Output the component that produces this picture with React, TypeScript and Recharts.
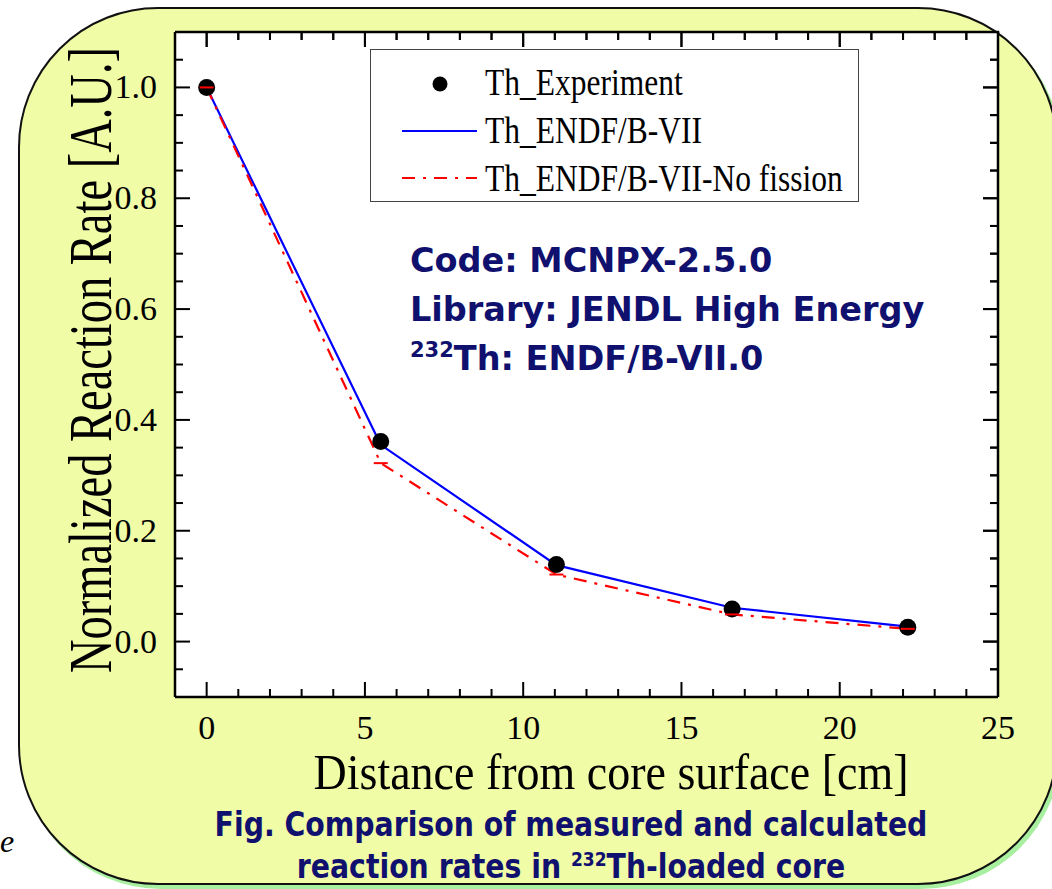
import { LineChart, Line, XAxis, YAxis, Legend } from 'recharts'

const distance = [0, 5.5, 11.05, 16.6, 22.15]
const experiment = [1.0, 0.361, 0.139, 0.059, 0.026]
const endf = [1.0, 0.355, 0.138, 0.061, 0.027]
const noFission = [1.0, 0.322, 0.121, 0.049, 0.023]

const seriesNames = ['Th_Experiment', 'Th_ENDF/B-VII', 'Th_ENDF/B-VII-No fission']

const xTicks = [0, 1, 2, 3, 4, 5, 6, 7, 8, 9, 10, 11, 12, 13, 14, 15, 16, 17, 18, 19, 20, 21, 22, 23, 24, 25]
const xMajor = [0, 5, 10, 15, 20, 25]
const yTicks = [
    -0.05, 0, 0.05, 0.1, 0.15, 0.2, 0.25, 0.3, 0.35, 0.4, 0.45, 0.5, 0.55, 0.6, 0.65, 0.7, 0.75, 0.8,
    0.85, 0.9, 0.95, 1.0, 1.05,
]
const yMajor = [0, 0.2, 0.4, 0.6, 0.8, 1.0]
const xDomain = [-1, 25]
const yDomain = [-0.1, 1.1]

const data = distance.map((x, i) => ({
    x,
    experiment: experiment[i],
    endf: endf[i],
    noFission: noFission[i],
}))

// chart layout
const W = 1052
const H = 889
const margin = { top: 32, right: 54, left: 0, bottom: 0 }
const yAxisW = 175
const xAxisH = 192
const plotW = W - margin.right - yAxisW
const plotH = H - margin.top - xAxisH

const serif = '"Liberation Serif", "Times New Roman", serif'
const navy = '#10106e'
const isMajorX = (v: number) => xMajor.some((m) => Math.abs(m - v) < 1e-6)
const isMajorY = (v: number) => yMajor.some((m) => Math.abs(m - v) < 1e-6)

// frame position of a tick value, same linear mapping as the axes
const frameX = (v: number) => yAxisW + ((v - xDomain[0]) / (xDomain[1] - xDomain[0])) * plotW
const frameY = (v: number) => margin.top + ((yDomain[1] - v) / (yDomain[1] - yDomain[0])) * plotH

// bottom ticks + mirrored ticks on the top frame
function BottomTick({ x, y, payload }: any) {
    const major = isMajorX(payload.value)
    const len = major ? 15 : 8
    const top = y - plotH
    return (
        <g>
            <line x1={x} x2={x} y1={y} y2={y - len} stroke='#000' strokeWidth={2} />
            <line x1={x} x2={x} y1={top} y2={top + len} stroke='#000' strokeWidth={2} />
            {major && (
                <text x={x} y={y + 42} textAnchor='middle' fontSize={34} fontFamily={serif} fill='#000'>
                    {payload.value}
                </text>
            )}
        </g>
    )
}

// left ticks + mirrored ticks on the right frame
function LeftTick({ x, y, payload }: any) {
    const major = isMajorY(payload.value)
    const len = major ? 15 : 8
    const right = x + plotW
    return (
        <g>
            <line x1={x} x2={x + len} y1={y} y2={y} stroke='#000' strokeWidth={2} />
            <line x1={right} x2={right - len} y1={y} y2={y} stroke='#000' strokeWidth={2} />
            {major && (
                <text x={x - 18} y={y + 11} textAnchor='end' fontSize={34} fontFamily={serif} fill='#000'>
                    {payload.value.toFixed(1)}
                </text>
            )}
        </g>
    )
}

function CapDot({ cx, cy, index }: any) {
    return <line key={`cap-${index}`} x1={cx - 7} x2={cx + 7} y1={cy} y2={cy} stroke='#ff0000' strokeWidth={2} />
}

function LegendBox() {
    return (
        <div style={{ width: 489, height: 153, border: '1.5px solid #444', boxSizing: 'border-box', background: '#fff' }}>
            <svg width={486} height={150} style={{ display: 'block' }}>
                <circle cx={69} cy={34} r={7.5} fill='#000' />
                <line x1={31} x2={106} y1={81} y2={81} stroke='#0000ff' strokeWidth={2.2} />
                <line x1={31} x2={106} y1={128} y2={128} stroke='#ff0000' strokeWidth={2.2} strokeDasharray='13 8 3 8' />
                {seriesNames.map((n, i) => (
                    <text key={n} transform={`translate(114,${45 + i * 48}) scale(1,1.2)`} fontSize={31.5} fontFamily={serif} fill='#000'>
                        {n}
                    </text>
                ))}
            </svg>
        </div>
    )
}

export default function App() {
    const right = yAxisW + plotW
    return (
        <div style={{ position: 'absolute', left: 0, top: 0, width: W, height: H, overflow: 'hidden', background: '#fff' }}>
            <div
                style={{
                    position: 'absolute',
                    left: 18,
                    top: 7,
                    width: 1040,
                    height: 878,
                    boxSizing: 'border-box',
                    border: '2.5px solid #111',
                    borderRadius: 140,
                    background: '#f0fca6',
                    boxShadow: '3px 4px 0 #a9efa0',
                }}
            />
            {/* white plot area */}
            <div
                style={{
                    position: 'absolute',
                    left: yAxisW,
                    top: margin.top,
                    width: plotW,
                    height: plotH,
                    background: '#fff',
                }}
            />
            <div style={{ position: 'absolute', left: 0, top: 0 }}>
                <LineChart width={W} height={H} data={data} margin={margin}>
                    <XAxis
                        dataKey='x'
                        type='number'
                        domain={xDomain}
                        ticks={xTicks}
                        interval={0}
                        height={xAxisH}
                        tickSize={0}
                        tickMargin={0}
                        tickLine={false}
                        tick={<BottomTick />}
                        axisLine={{ stroke: '#000', strokeWidth: 2.5 }}
                        label={{
                            content: () => (
                                <text transform='translate(611,789) scale(1,1.1)' textAnchor='middle' fontSize={46} fontFamily={serif} fill='#000'>
                                    Distance from core surface [cm]
                                </text>
                            ),
                        }}
                    />
                    <YAxis
                        type='number'
                        domain={yDomain}
                        ticks={yTicks}
                        interval={0}
                        width={yAxisW}
                        tickSize={0}
                        tickMargin={0}
                        tickLine={false}
                        tick={<LeftTick />}
                        axisLine={{ stroke: '#000', strokeWidth: 2.5 }}
                        label={{
                            content: () => (
                                <text transform='translate(111,360) rotate(-90) scale(1,1.3)' textAnchor='middle' fontSize={46.5} fontFamily={serif} fill='#000'>
                                    Normalized Reaction Rate [A.U.]
                                </text>
                            ),
                        }}
                    />
                    <Legend
                        layout='vertical'
                        align='center'
                        verticalAlign='middle'
                        content={<LegendBox />}
                        wrapperStyle={{ position: 'absolute', left: 370, top: 49, width: 489, height: 153 }}
                    />
                    <Line
                        dataKey='experiment'
                        name={seriesNames[0]}
                        stroke='none'
                        dot={{ r: 8.5, fill: '#000', stroke: 'none' }}
                        activeDot={false}
                        isAnimationActive={false}
                    />
                    <Line
                        dataKey='endf'
                        name={seriesNames[1]}
                        stroke='#0000ff'
                        strokeWidth={2.2}
                        dot={false}
                        activeDot={false}
                        isAnimationActive={false}
                    />
                    <Line
                        dataKey='noFission'
                        name={seriesNames[2]}
                        stroke='#ff0000'
                        strokeWidth={2.2}
                        strokeDasharray='13 8 3 8'
                        dot={<CapDot />}
                        activeDot={false}
                        isAnimationActive={false}
                    />
                </LineChart>
            </div>
            <svg width={W} height={H} style={{ position: 'absolute', left: 0, top: 0, pointerEvents: 'none' }}>
                {/* top and right frame with inward ticks */}
                <g stroke='#000' strokeWidth={2}>
                    <line x1={yAxisW} x2={right + 1.25} y1={margin.top} y2={margin.top} strokeWidth={2.5} />
                    <line x1={right} x2={right} y1={margin.top} y2={margin.top + plotH} strokeWidth={2.5} />
                    {xTicks.map((v) => (
                        <line key={`t${v}`} x1={frameX(v)} x2={frameX(v)} y1={margin.top} y2={margin.top + (isMajorX(v) ? 15 : 8)} />
                    ))}
                    {yTicks.map((v) => (
                        <line key={`r${v}`} x1={right} x2={right - (isMajorY(v) ? 15 : 8)} y1={frameY(v)} y2={frameY(v)} />
                    ))}
                </g>
                <g fontFamily='"DejaVu Sans", Verdana, sans-serif' fontWeight='bold' fontSize={33.5} fill={navy}>
                    <text x={410} y={272}>Code: MCNPX-2.5.0</text>
                    <text x={410} y={321}>Library: JENDL High Energy</text>
                    <text x={410} y={370}>
                        <tspan fontSize={21} dy={-13}>232</tspan>
                        <tspan dy={13}>Th: ENDF/B-VII.0</tspan>
                    </text>
                </g>
                <g fontFamily='"Liberation Sans Narrow", "DejaVu Sans Condensed", sans-serif' fontWeight='bold' fontSize={31.5} fill={navy} textAnchor='middle'>
                    <text transform='translate(571,836) scale(1,1.05)'>Fig. Comparison of measured and calculated</text>
                    <text transform='translate(571,878) scale(1,1.05)'>
                        reaction rates in <tspan fontSize={19} dy={-11}>232</tspan>
                        <tspan dy={11}>Th-loaded core</tspan>
                    </text>
                </g>
                <text x={0} y={852} fontFamily={serif} fontStyle='italic' fontSize={32} fill='#000'>
                    e
                </text>
            </svg>
        </div>
    )
}
